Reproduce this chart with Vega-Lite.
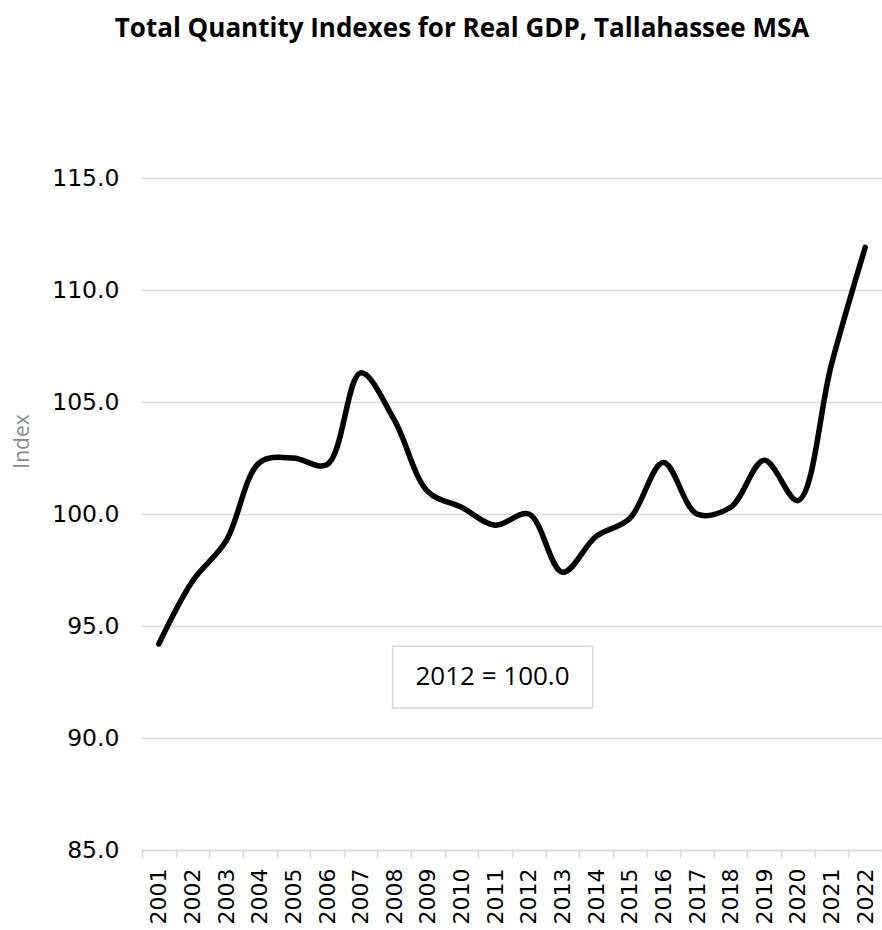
{
  "$schema": "https://vega.github.io/schema/vega-lite/v6.json",
  "width": 740,
  "height": 672,
  "autosize": {"type": "none"},
  "padding": {"left": 142, "top": 178, "right": 0, "bottom": 80},
  "background": "white",
  "title": {
    "text": "Total Quantity Indexes for Real GDP, Tallahassee MSA",
    "font": "Open Sans",
    "fontSize": 26,
    "fontWeight": "bold",
    "color": "black",
    "anchor": "middle",
    "frame": "group",
    "dx": -50,
    "offset": 124
  },
  "config": {
    "view": {"stroke": null},
    "axis": {"labelFont": "DejaVu Sans", "labelFontSize": 22, "labelColor": "black"}
  },
  "resolve": {"scale": {"x": "independent"}},
  "layer": [
    {
      "data": {
        "values": [
          {"year": "2001", "index": 94.2},
          {"year": "2002", "index": 97.0},
          {"year": "2003", "index": 98.8},
          {"year": "2004", "index": 102.3},
          {"year": "2005", "index": 102.5},
          {"year": "2006", "index": 102.2},
          {"year": "2007", "index": 106.3},
          {"year": "2008", "index": 104.2},
          {"year": "2009", "index": 101.0},
          {"year": "2010", "index": 100.3},
          {"year": "2011", "index": 99.5},
          {"year": "2012", "index": 100.0},
          {"year": "2013", "index": 97.4},
          {"year": "2014", "index": 99.0},
          {"year": "2015", "index": 99.8},
          {"year": "2016", "index": 102.3},
          {"year": "2017", "index": 100.0},
          {"year": "2018", "index": 100.3},
          {"year": "2019", "index": 102.4},
          {"year": "2020", "index": 100.6},
          {"year": "2021", "index": 106.7},
          {"year": "2022", "index": 111.9}
        ]
      },
      "mark": {"type": "line", "interpolate": "catmull-rom", "strokeWidth": 5.5, "color": "black", "strokeCap": "round", "strokeJoin": "round"},
      "encoding": {
        "x": {
          "field": "year",
          "type": "ordinal",
          "bandPosition": 0.5,
          "scale": {"type": "band", "paddingInner": 0, "paddingOuter": 0},
          "axis": {
            "title": null,
            "labelAngle": -90,
            "labelPadding": 10,
            "tickBand": "extent",
            "tickSize": 8,
            "tickWidth": 1.5,
            "tickColor": "#d9d9d9",
            "domainColor": "#d9d9d9",
            "domainWidth": 1.5,
            "grid": false
          }
        },
        "y": {
          "field": "index",
          "type": "quantitative",
          "scale": {"domain": [85, 115], "nice": false, "zero": false},
          "axis": {
            "title": "Index",
            "titleFont": "Open Sans",
            "titleFontSize": 21,
            "titleFontWeight": "normal",
            "titleColor": "#8c8c8c",
            "titleX": -120,
            "titleY": 263,
            "titleBaseline": "middle",
            "titleAlign": "center",
            "values": [85, 90, 95, 100, 105, 110, 115],
            "format": ".1f",
            "labelFontSize": 23.5,
            "domain": false,
            "ticks": false,
            "labelPadding": 23,
            "grid": true,
            "gridColor": "#d9d9d9",
            "gridWidth": 1.5
          }
        }
      }
    },
    {
      "data": {"values": [{"note": "2012 = 100.0"}]},
      "mark": {"type": "rect", "fill": "white", "stroke": "#d9d9d9", "strokeWidth": 1.5},
      "encoding": {
        "x": {"datum": 2007.95, "type": "quantitative", "scale": {"domain": [2000.5, 2022.5], "nice": false, "zero": false}, "axis": null},
        "x2": {"datum": 2013.9},
        "y": {"datum": 91.35, "type": "quantitative"},
        "y2": {"datum": 94.1}
      }
    },
    {
      "data": {"values": [{"note": "2012 = 100.0"}]},
      "mark": {"type": "text", "font": "Open Sans", "fontSize": 26, "color": "black", "align": "center", "baseline": "middle"},
      "encoding": {
        "x": {"datum": 2010.92, "type": "quantitative", "scale": {"domain": [2000.5, 2022.5], "nice": false, "zero": false}, "axis": null},
        "y": {"datum": 92.72, "type": "quantitative"},
        "text": {"field": "note"}
      }
    }
  ]
}
